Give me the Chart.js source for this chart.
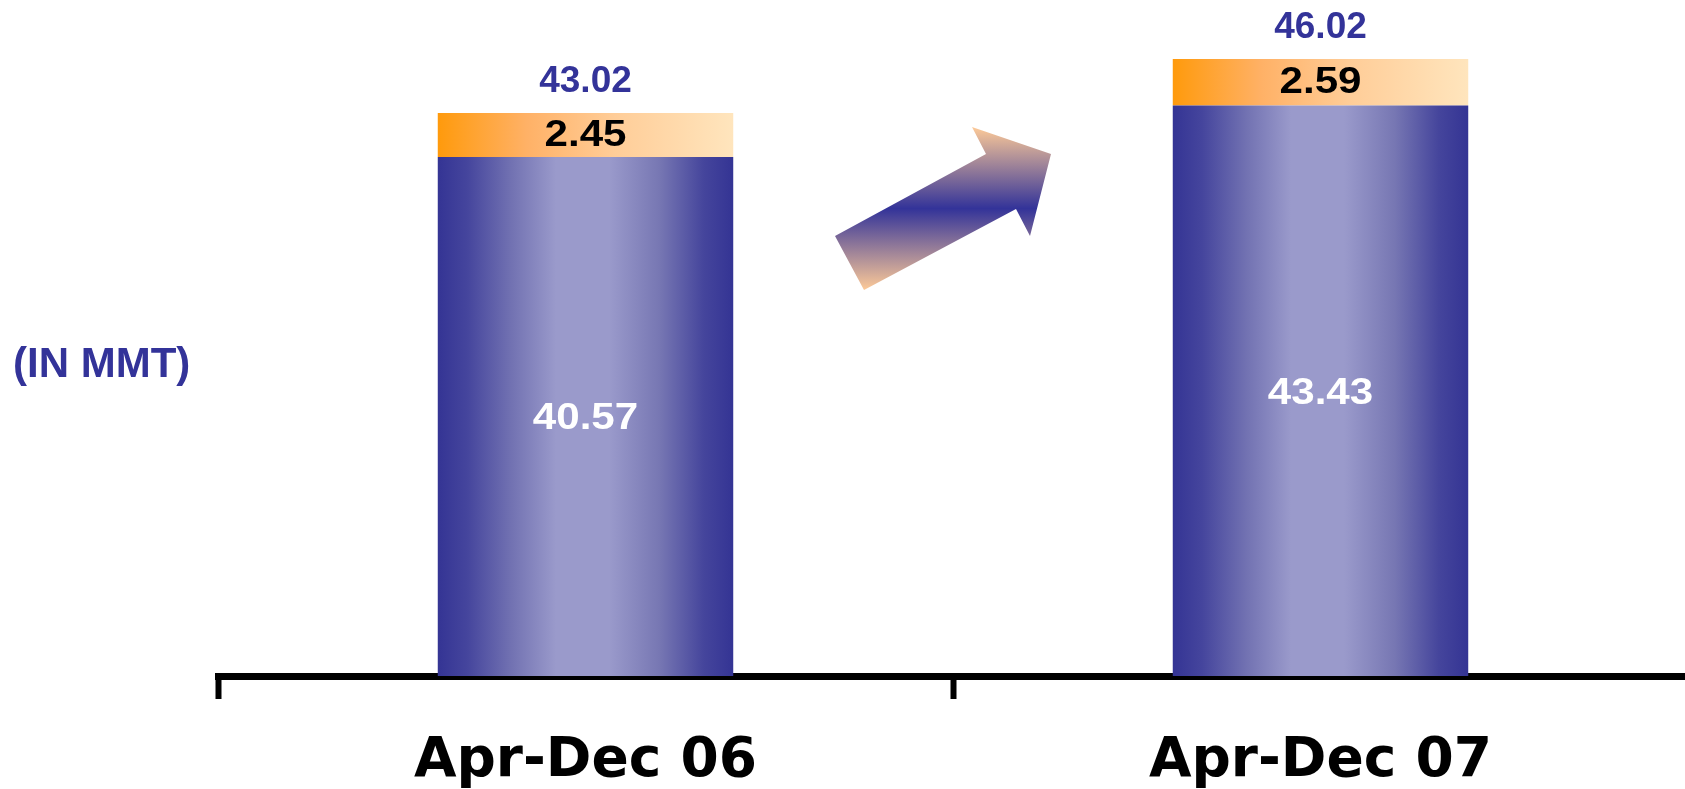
<!DOCTYPE html>
<html>
<head>
<meta charset="utf-8">
<script src="https://cdn.jsdelivr.net/npm/chart.js@4/dist/chart.umd.min.js"></script>
<style>
    html, body { margin: 0; padding: 0; background: #fff; overflow: hidden; }
    .chart-box { width: 1690px; height: 789px; position: relative; }
</style>
</head>
<body>
<div class="chart-box"><canvas id="chart"></canvas></div>
<script>
const categories = ["Apr-Dec 06", "Apr-Dec 07"];
const baseValues = [40.57, 43.43];
const topValues = [2.45, 2.59];
const unitLabel = "(IN MMT)";

const BLUE = "#333399";

// arrow outline, relative to its anchor point
const arrowShape = [[-108, 28], [43, -54], [29, -81], [108, -54], [87, 28], [73, 1], [-79, 82]];

document.addEventListener('DOMContentLoaded', function() {
    initChart()
});

function barGradient(c, stops) {
    const chart = c.chart;
    if (!chart.chartArea) return stops[0][1];
    const xs = chart.scales.x;
    const w = xs.width / categories.length * 0.402;
    const cx = xs.getPixelForValue(c.dataIndex);
    const g = chart.ctx.createLinearGradient(cx - w / 2, 0, cx + w / 2, 0);
    stops.forEach(s => g.addColorStop(s[0], s[1]));
    return g;
}

const blueStops = [[0, "#343494"], [0.1, "#45459d"], [0.25, "#7272b2"], [0.4, "#9a9acb"], [0.58, "#9a9acb"], [0.75, "#7777b3"], [0.9, "#45459c"], [1, "#343494"]];
const orangeStops = [[0, "#ff9a0c"], [0.3, "#ffb166"], [0.6, "#ffcd98"], [1, "#ffe5bd"]];

function drawStretched(ctx, text, x, y, sx) {
    ctx.save();
    ctx.translate(x, y);
    ctx.scale(sx, 1);
    ctx.fillText(text, 0, 0);
    ctx.restore();
}

const labelsPlugin = {
    id: 'labels',
    afterDatasetsDraw(chart) {
        const ctx = chart.ctx;
        const area = chart.chartArea;
        const xs = chart.scales.x;

        // arrow between the bars
        const ax = xs.getPixelForValue(0.5) - 10;
        const ay = area.top + 208;
        const g = ctx.createLinearGradient(0, ay - 81, 0, ay + 82);
        g.addColorStop(0, "#fdca98");
        g.addColorStop(0.5, "#333399");
        g.addColorStop(1, "#fdca98");
        ctx.save();
        ctx.beginPath();
        arrowShape.forEach((p, i) => i ? ctx.lineTo(ax + p[0], ay + p[1]) : ctx.moveTo(ax + p[0], ay + p[1]));
        ctx.closePath();
        ctx.fillStyle = g;
        ctx.fill();
        ctx.restore();

        const lower = chart.getDatasetMeta(0).data;
        const upper = chart.getDatasetMeta(1).data;
        ctx.save();
        ctx.textAlign = 'center';
        ctx.textBaseline = 'middle';
        categories.forEach((c, i) => {
            const b = lower[i], t = upper[i];
            const bBase = Math.min(b.base, area.bottom);

            ctx.font = "bold 36px 'Liberation Sans', Arial, sans-serif";
            ctx.fillStyle = "#ffffff";
            drawStretched(ctx, baseValues[i].toFixed(2), b.x, (b.y + bBase) / 2 + 3, 1.17);

            ctx.fillStyle = "#000000";
            drawStretched(ctx, topValues[i].toFixed(2), t.x, (t.y + t.base) / 2 + 1, 1.17);

            ctx.font = "bold 37px 'Liberation Sans', Arial, sans-serif";
            ctx.fillStyle = BLUE;
            ctx.fillText((baseValues[i] + topValues[i]).toFixed(2), t.x, t.y - 31);
        });

        ctx.textAlign = 'left';
        ctx.font = "bold 42px 'Liberation Sans', Arial, sans-serif";
        ctx.fillStyle = BLUE;
        ctx.fillText(unitLabel, 13, 365);
        ctx.restore();
    }
};

function initChart() {
    let data = {
        labels: categories,
        datasets: [{
            data: baseValues,
            backgroundColor: c => barGradient(c, blueStops),
            barPercentage: 0.402,
            categoryPercentage: 1
        }, {
            data: topValues,
            backgroundColor: c => barGradient(c, orangeStops),
            barPercentage: 0.402,
            categoryPercentage: 1
        }]
    };

    let options = {
        responsive: true,
        maintainAspectRatio: false,
        animation: false,
        layout: {
            padding: { left: 218, right: 2, top: 0, bottom: 0 }
        },
        plugins: {
            legend: { display: false },
            tooltip: { enabled: false }
        },
        scales: {
            y: {
                display: false,
                stacked: true,
                min: 11.7,
                max: 49.3
            },
            x: {
                stacked: true,
                offset: true,
                z: 1,
                afterFit: function(scale) { scale.height = 113; },
                border: {
                    display: true,
                    color: "#000000",
                    width: 7
                },
                grid: {
                    display: true,
                    offset: true,
                    drawOnChartArea: false,
                    drawTicks: true,
                    tickLength: 23,
                    tickWidth: 6,
                    tickColor: "#000000",
                    color: "#000000"
                },
                ticks: {
                    color: "#000000",
                    padding: 30,
                    font: {
                        size: 55,
                        weight: 'bold',
                        family: "'DejaVu Sans', sans-serif"
                    }
                }
            }
        }
    };

    let ctx = document.getElementById('chart').getContext('2d');
    const chart = new Chart(ctx, {
        type: 'bar',
        options: options,
        data: data,
        plugins: [labelsPlugin]
    });
}
</script>
</body>
</html>
